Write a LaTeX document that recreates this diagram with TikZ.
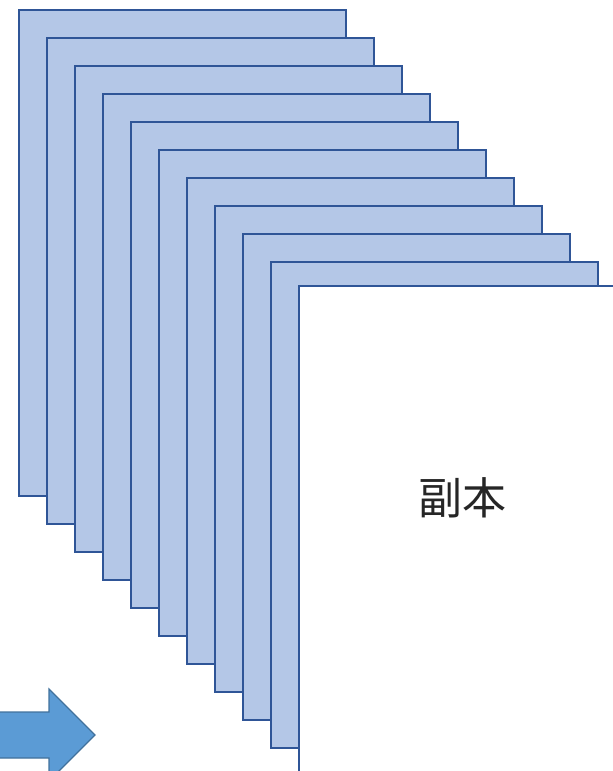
\documentclass[tikz,border=0pt]{standalone}
\usepackage{fontspec}
\newfontfamily\cjk{Noto Sans CJK JP}
\definecolor{pageblue}{HTML}{B4C7E7}
\definecolor{borderblue}{HTML}{2F5597}
\definecolor{arrowfill}{HTML}{5B9BD5}
\definecolor{arrowline}{HTML}{41719C}
\begin{document}
\begin{tikzpicture}[x=1pt,y=-1pt,
  page/.style={draw=borderblue, line width=1.8pt, fill=pageblue},
  blockarrow/.style={draw=arrowline, line width=1.2pt, fill=arrowfill, line join=miter},
  label/.style={font=\cjk\fontsize{44}{44}\selectfont, text=black!85}]
\useasboundingbox (0,0) rectangle (613,771);
\clip (0,0) rectangle (613,771);
\foreach \i in {0,...,9} {
  \draw[page] ({19+28*\i},{10+28*\i}) rectangle ({346+28*\i},{496+28*\i});
}
\draw[page, fill=white] (299,286) rectangle (640,800);
\node[label] (copy) at (462,498) {副本};
\draw[blockarrow] (-20,712) -- (49,712) -- (49,689) -- (95,735) -- (49,781) -- (49,758) -- (-20,758) -- cycle;
\end{tikzpicture}
\end{document}
